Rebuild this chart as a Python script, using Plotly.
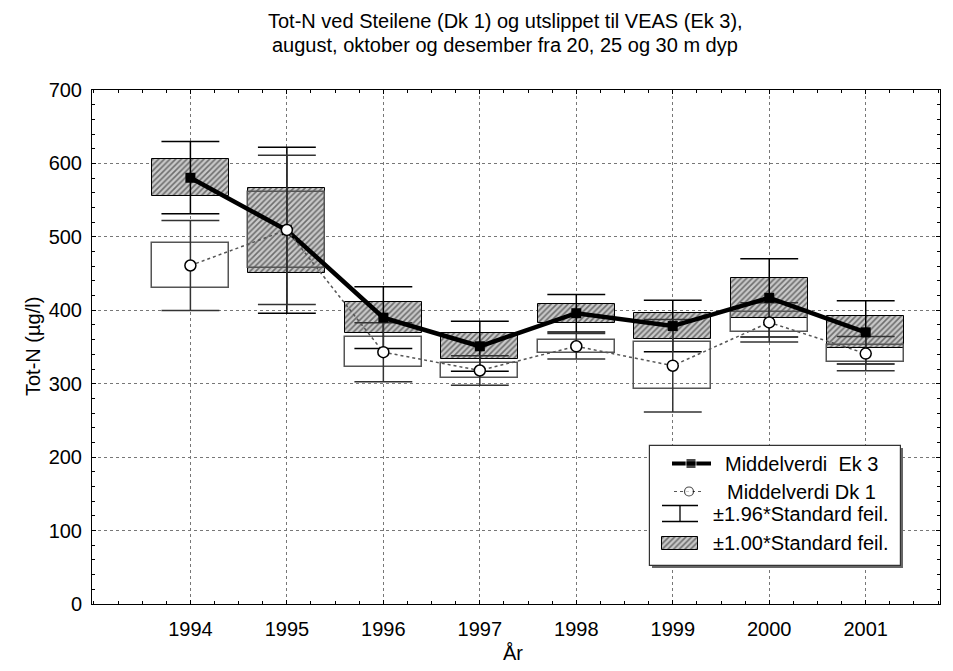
import plotly.graph_objects as go

years = [1994, 1995, 1996, 1997, 1998, 1999, 2000, 2001]
ek3_mean = [580.5, 509, 390, 351, 396, 378.5, 417, 370]
ek3_se = [25.1, 57.7, 21.4, 17.4, 13.0, 17.9, 27.2, 22.0]
dk1_mean = [461, 509.5, 343, 318, 351, 324.5, 383.5, 341]
dk1_se = [31.2, 51.9, 20.5, 10.3, 8.8, 32.2, 13.6, 11.9]

legend_labels = ["Middelverdi  Ek 3", "Middelverdi Dk 1",
                 "\u00b11.96*Standard feil.", "\u00b11.00*Standard feil."]
title_lines = ["Tot-N ved Steilene (Dk 1) og utslippet til VEAS (Ek 3),",
               "august, oktober og desember fra 20, 25 og 30 m dyp"]
ytitle = "Tot-N (\u00b5g/l)"
xtitle = "\u00c5r"

FONT = "Liberation Sans, Arial, sans-serif"
OFF = 8                       # page body margin
W, H = 953 - 2 * OFF, 671 - 2 * OFF
PX0, PX1, PY0, PY1 = 92, 940, 90, 604   # plot area in page px
L, T = PX0 - OFF, PY0 - OFF
R, B = W - (PX1 - OFF), H - (PY1 - OFF)
pw, ph = PX1 - PX0, PY1 - PY0


def whiskers(xs, means, ses, k=1.96, cap=0.3):
    wx, wy = [], []
    for x, m, s in zip(xs, means, ses):
        lo, hi = m - k * s, m + k * s
        wx += [x, x, None, x - cap, x + cap, None, x - cap, x + cap, None]
        wy += [lo, hi, None, hi, hi, None, lo, lo, None]
    return wx, wy


HATCH = dict(shape="/", fgcolor="#111", bgcolor="#c9c9c9", size=4, solidity=0.4)

fig = go.Figure()

# Ek 3 +-1 SE hatched boxes
fig.add_trace(go.Bar(
    x=years, y=[2 * s for s in ek3_se], base=[m - s for m, s in zip(ek3_mean, ek3_se)],
    width=0.8,
    marker=dict(color="#c9c9c9", line=dict(color="black", width=1), pattern=HATCH),
    showlegend=False, hoverinfo="skip"))
# Dk 1 +-1 SE open boxes
fig.add_trace(go.Bar(
    x=years, y=[2 * s for s in dk1_se], base=[m - s for m, s in zip(dk1_mean, dk1_se)],
    width=0.8,
    marker=dict(color="rgba(0,0,0,0)", line=dict(color="#555", width=1.5)),
    showlegend=False, hoverinfo="skip"))

wx, wy = whiskers(years, ek3_mean, ek3_se)
fig.add_trace(go.Scatter(x=wx, y=wy, mode="lines", line=dict(color="black", width=1.5),
                         showlegend=False, hoverinfo="skip"))
wx, wy = whiskers(years, dk1_mean, dk1_se)
fig.add_trace(go.Scatter(x=wx, y=wy, mode="lines", line=dict(color="#333", width=1.5),
                         showlegend=False, hoverinfo="skip"))

fig.add_trace(go.Scatter(x=years, y=ek3_mean, mode="lines+markers",
                         line=dict(color="black", width=4.5),
                         marker=dict(symbol="square", size=10, color="black"),
                         showlegend=False))
fig.add_trace(go.Scatter(x=years, y=dk1_mean, mode="lines+markers",
                         line=dict(color="#555", width=1.5, dash="dot"),
                         marker=dict(symbol="circle", size=11, color="white",
                                     line=dict(color="black", width=1.5)),
                         showlegend=False))

# ---- custom legend on a page-pixel overlay axis ----
lx0, lx1, ly0, ly1 = 650, 901, 446, 566
fig.add_trace(go.Bar(x=[(lx0 + lx1) / 2 + 1.5], y=[ly1 - ly0], base=[ly0 + 1.5], width=[lx1 - lx0],
                     xaxis="x2", yaxis="y2",
                     marker=dict(color="#666", line=dict(width=0)),
                     showlegend=False, hoverinfo="skip"))
fig.add_trace(go.Bar(x=[(lx0 + lx1) / 2], y=[ly1 - ly0], base=[ly0], width=[lx1 - lx0],
                     xaxis="x2", yaxis="y2",
                     marker=dict(color="white", line=dict(color="#333", width=1.2)),
                     showlegend=False, hoverinfo="skip"))
rows = [463.5, 491.5, 513.5, 543]
fig.add_trace(go.Scatter(x=[672, 691, 711], y=[rows[0]] * 3, xaxis="x2", yaxis="y2",
                         mode="lines+markers", line=dict(color="black", width=4),
                         marker=dict(symbol="square", size=[0, 10, 0], color="black"),
                         showlegend=False, hoverinfo="skip"))
fig.add_trace(go.Scatter(x=[674, 689, 704], y=[rows[1]] * 3, xaxis="x2", yaxis="y2",
                         mode="lines+markers", line=dict(color="#555", width=1.2, dash="dot"),
                         marker=dict(symbol="circle", size=[0, 9, 0], color="white",
                                     line=dict(color="black", width=1.2)),
                         showlegend=False, hoverinfo="skip"))
fig.add_trace(go.Scatter(x=[662, 698, None, 662, 698, None, 680, 680],
                         y=[505.5, 505.5, None, 521.5, 521.5, None, 505.5, 521.5],
                         xaxis="x2", yaxis="y2", mode="lines",
                         line=dict(color="black", width=1.3),
                         showlegend=False, hoverinfo="skip"))
fig.add_trace(go.Bar(x=[680], y=[13.5], base=[536.5], width=[36.5], xaxis="x2", yaxis="y2",
                     marker=dict(color="#c9c9c9", line=dict(color="black", width=1), pattern=HATCH),
                     showlegend=False, hoverinfo="skip"))

annotations = []
for lab, ry in zip(legend_labels, rows):
    annotations.append(dict(x=801, y=ry, xref="x2", yref="y2", text=lab, showarrow=False,
                            xanchor="center", yanchor="middle",
                            font=dict(family=FONT, size=20, color="black")))


def px2paper(px, py):
    return (px - PX0) / pw, (PY1 - py) / ph


for line, py in zip(title_lines, [21, 44.5]):
    x, y = px2paper(505, py)
    annotations.append(dict(x=x, y=y, xref="paper", yref="paper", text=line, showarrow=False,
                            xanchor="center", yanchor="middle",
                            font=dict(family=FONT, size=20, color="black")))
x, y = px2paper(33, 347)
annotations.append(dict(x=x, y=y, xref="paper", yref="paper", text=ytitle,
                        textangle=-90, showarrow=False, xanchor="center", yanchor="middle",
                        font=dict(family=FONT, size=20, color="black")))
x, y = px2paper(513, 653)
annotations.append(dict(x=x, y=y, xref="paper", yref="paper",
                        text=xtitle, showarrow=False, xanchor="center", yanchor="middle",
                        font=dict(family=FONT, size=20, color="black")))

axis_common = dict(showline=True, linecolor="black", linewidth=1, mirror="allticks",
                   ticks="inside", ticklen=4, tickcolor="black",
                   showgrid=True, gridcolor="#777", griddash="dot", gridwidth=1,
                   zeroline=False, tickfont=dict(family=FONT, size=20, color="black"))

fig.update_layout(
    width=W, height=H, margin=dict(l=L, r=R, t=T, b=B, pad=0, autoexpand=False),
    paper_bgcolor="white", plot_bgcolor="white", barmode="overlay", bargap=0,
    font=dict(family=FONT, color="black"),
    xaxis=dict(range=[1992.98, 2001.77], tickvals=years, ticktext=[str(y) for y in years],
               ticklabelstandoff=7,
               minor=dict(dtick=0.25, ticks="inside", ticklen=3, tickcolor="black", showgrid=False),
               **axis_common),
    yaxis=dict(range=[0, 700], dtick=100, ticklabelstandoff=5,
               minor=dict(dtick=20, ticks="inside", ticklen=3, tickcolor="black", showgrid=False),
               **axis_common),
    xaxis2=dict(overlaying="x", range=[PX0, PX1], visible=False, anchor="y2"),
    yaxis2=dict(overlaying="y", range=[PY1, PY0], visible=False, anchor="x2"),
    annotations=annotations,
)

fig.write_html("out.html")
